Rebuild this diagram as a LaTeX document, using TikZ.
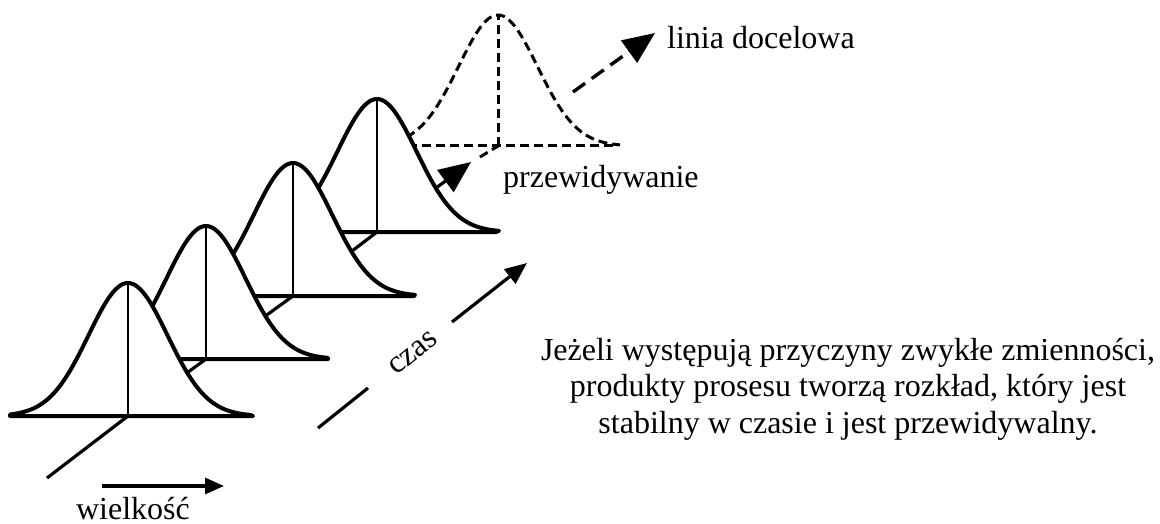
\documentclass[tikz,border=0pt]{standalone}
\usepackage{fontspec}
\setmainfont{Liberation Serif}
\usetikzlibrary{arrows.meta}
\newcommand\bellpath[3]{plot[domain=-118:122,samples=90,smooth] ({#1+\x},{#2-#3*exp(-0.5*(\x/39.5)^2)})}
\begin{document}
\begin{tikzpicture}[x=1pt,y=-1pt,
  bell/.style={line width=4pt, fill=white, line join=round},
  midline/.style={line width=2.2pt},
  axisline/.style={line width=3.2pt},
  dashbell/.style={line width=3pt, dash pattern=on 9pt off 5pt},
  dashaxis/.style={line width=3.4pt, dash pattern=on 15pt off 8pt},
  lbl/.style={font=\fontsize{32}{36.5}\selectfont, inner sep=0pt}]
\useasboundingbox (0,0) rectangle (1160,524);
% centres of the curves
\coordinate (c1) at (128,416);
\coordinate (c2) at (206,359);
\coordinate (c3) at (293,296);
\coordinate (c4) at (377,232);
\coordinate (c5) at (498,146);
\coordinate (c1top) at (128,283);
\coordinate (c2top) at (206,226);
\coordinate (c3top) at (293,163);
\coordinate (c4top) at (377,99);
\coordinate (c5top) at (498,15);
\coordinate (a0) at (47,478);
% target line
\coordinate (d1) at (573,92);
\coordinate (d2) at (655,33);
\draw[dashaxis, -{Triangle[length=32pt,width=27pt]}] (d1) -- (d2);
% predicted (dashed) distribution
\fill[white] \bellpath{498}{146}{131} -- (620,146) -- (380,146) -- cycle;
\draw[dashbell] \bellpath{498}{146}{131};
\draw[dashbell] (380,146) -- (613,146);
\draw[dashbell] (c5) -- (c5top);
\coordinate (p2) at (480,157);
\draw[dashbell] (p2) -- (c5);
% prediction arrow
\coordinate (pt) at (471,162);
\draw[axisline, -{Triangle[length=32pt,width=27pt]}] (c4) -- (pt);
% curve 4
\draw[bell] \bellpath{377}{232}{133} -- (496,232) -- (259,232) -- cycle;
\draw[midline] (c4) -- (c4top);
\draw[axisline] (c4) -- (c3);
% curve 3
\draw[bell] \bellpath{293}{296}{133} -- (414,296) -- (175,296) -- cycle;
\draw[midline] (c3) -- (c3top);
\draw[axisline] (c3) -- (c2);
% curve 2
\draw[bell] \bellpath{206}{359}{133} -- (328,359) -- (88,359) -- cycle;
\draw[midline] (c2) -- (c2top);
\draw[axisline] (c2) -- (c1);
% curve 1
\draw[bell] \bellpath{128}{416}{133} -- (253,416) -- (10,416) -- cycle;
\draw[midline] (c1) -- (c1top);
\draw[axisline] (c1) -- (a0);
% time axis
\coordinate (t1) at (318,428);
\coordinate (t2) at (368,388);
\coordinate (t3) at (452,322);
\coordinate (t4) at (527,263);
\draw[axisline] (t1) -- (t2);
\draw[axisline, -{Triangle[length=22pt,width=18pt]}] (t3) -- (t4);
\node[lbl, rotate=38.5] (czas) at (413,353) {czas};
% magnitude axis
\coordinate (w1) at (102,486);
\coordinate (w2) at (224,486);
\draw[axisline, -{Triangle[length=19pt,width=16pt]}] (w1) -- (w2);
\node[lbl, anchor=base] (wielkosc) at (133,519) {wielkość};
% labels
\node[lbl, anchor=base west] (linia) at (667,49) {linia docelowa};
\node[lbl, anchor=base west] (przew) at (503,188) {przewidywanie};
\node[lbl, align=center] (opis) at (848,389) {Jeżeli występują przyczyny zwykłe zmienności,\\produkty prosesu tworzą rozkład, który jest\\stabilny w czasie i jest przewidywalny.};
\end{tikzpicture}
\end{document}
